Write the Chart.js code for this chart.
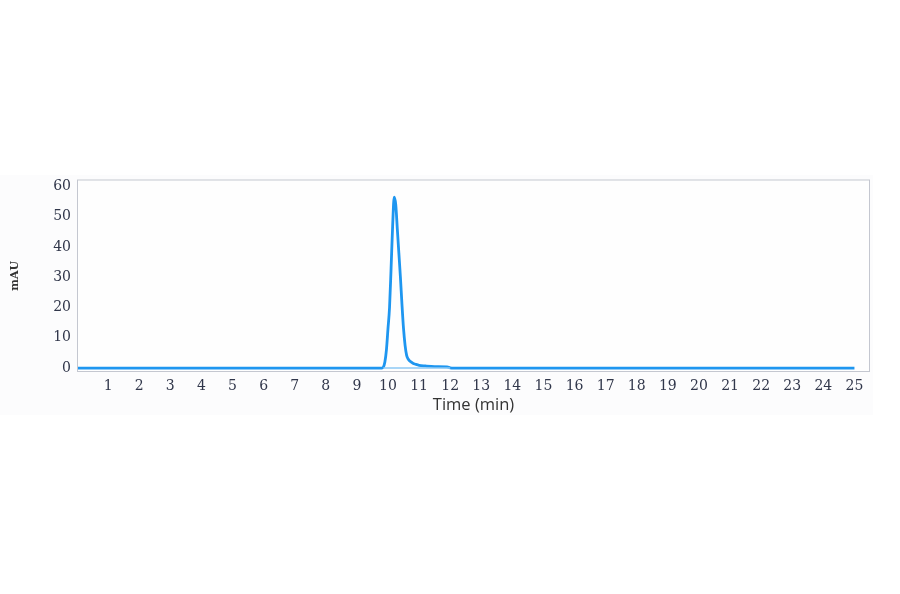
<!DOCTYPE html>
<html>
<head>
<meta charset="utf-8">
<script src="https://cdn.jsdelivr.net/npm/chart.js@4/dist/chart.umd.min.js"></script>
<style>
  html, body { margin: 0; padding: 0; background: #ffffff; }
  #wrap { position: absolute; left: 0; top: 175px; width: 873px; height: 240px; background: #fcfcfd; }
</style>
</head>
<body>
<div id="wrap"><canvas id="chromChart"></canvas></div>
<script>
// chromatogram trace, time in min / absorbance in mAU
const times = [0, 9.8, 9.85, 9.9, 9.95, 10.0, 10.05, 10.1, 10.15, 10.2, 10.25, 10.3, 10.35, 10.4, 10.45,
               10.5, 10.55, 10.6, 10.65, 10.7, 10.8, 10.9, 11.0, 11.2, 11.5, 11.9, 12.0, 12.1, 25];
const mau   = [0, 0, 0.3, 2, 6, 13, 20, 33, 47, 56.5, 54, 46, 38, 30, 21,
               13, 7.5, 4.2, 3, 2.3, 1.6, 1.2, 0.9, 0.7, 0.5, 0.4, 0.1, 0, 0];

// integration baseline under the peak
const baseTimes = [9.85, 12.0];
const baseMau   = [0, 0];

const xTicks = [1, 2, 3, 4, 5, 6, 7, 8, 9, 10, 11, 12, 13, 14, 15, 16, 17, 18, 19, 20, 21, 22, 23, 24, 25];
const yTicks = [0, 10, 20, 30, 40, 50, 60];

const ctx = document.getElementById('chromChart').getContext('2d');

const frame = {
    id: 'frame',
    beforeDraw(chart) {
        const a = chart.chartArea, c = chart.ctx;
        c.save();
        c.fillStyle = '#fefefe';
        c.fillRect(a.left, a.top, a.right - a.left, a.bottom - a.top);
        c.restore();
    },
    afterDraw(chart) {
        const a = chart.chartArea, c = chart.ctx;
        c.save();
        c.strokeStyle = '#c4c7d0';
        c.lineWidth = 1;
        c.strokeRect(a.left + 0.5, a.top + 0.5, a.right - a.left - 1, a.bottom - a.top - 1);
        c.restore();
    }
};

new Chart(ctx, {
    type: 'line',
    data: {
        datasets: [
            {
                label: 'Baseline',
                data: baseTimes.map((t, i) => ({ x: t, y: baseMau[i] })),
                borderColor: '#8cc8f5',
                borderWidth: 1.5,
                pointRadius: 0,
                fill: false
            },
            {
                label: 'Signal',
                data: times.map((t, i) => ({ x: t, y: mau[i] })),
                borderColor: '#1e96f0',
                borderWidth: 2.8,
                pointRadius: 0,
                tension: 0.3,
                cubicInterpolationMode: 'monotone',
                fill: false
            }
        ]
    },
    plugins: [frame],
    options: {
        responsive: true,
        maintainAspectRatio: false,
        animation: false,
        layout: { padding: { top: 4, right: 3, left: 0, bottom: 0 } },
        plugins: { legend: { display: false }, tooltip: { enabled: false } },
        scales: {
            x: {
                type: 'linear',
                min: 0,
                max: 25.5,
                afterBuildTicks: s => { s.ticks = xTicks.map(v => ({ value: v })); },
                afterFit: s => { s.height = 43; },
                grid: { display: false, drawTicks: true, tickLength: 4, tickColor: '#8a8f9c' },
                border: { display: false },
                ticks: {
                    color: '#30364a',
                    padding: 2,
                    maxRotation: 0,
                    autoSkip: false,
                    font: { family: 'DejaVu Serif', size: 14 }
                },
                title: {
                    display: true,
                    text: 'Time (min)',
                    color: '#333333',
                    padding: { top: 0, bottom: 0 },
                    font: { family: 'Open Sans', size: 16.5 }
                }
            },
            y: {
                min: -1.3,
                max: 62.3,
                afterBuildTicks: s => { s.ticks = yTicks.map(v => ({ value: v })); },
                afterFit: s => { s.width = 77; },
                grid: { display: false, drawTicks: true, tickLength: 5, tickColor: '#8a8f9c' },
                border: { display: false },
                ticks: {
                    color: '#30364a',
                    padding: 1,
                    font: { family: 'DejaVu Serif', size: 14, lineHeight: 0.5 }
                },
                title: {
                    display: true,
                    text: 'mAU',
                    color: '#333333',
                    padding: { top: 9, bottom: 8 },
                    font: { family: 'DejaVu Serif', size: 11, weight: 'bold' }
                }
            }
        }
    }
});
</script>
</body>
</html>
